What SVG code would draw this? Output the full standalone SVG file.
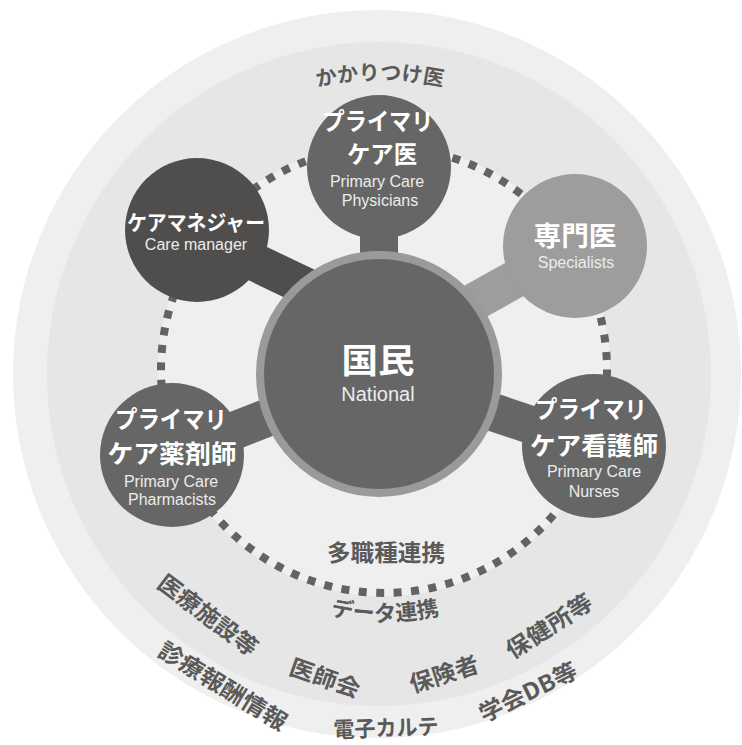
<svg xmlns="http://www.w3.org/2000/svg" width="742" height="745" viewBox="0 0 742 745">
<style>
.jp{font-family:"Noto Sans CJK JP",sans-serif;font-weight:700;fill:#ffffff;text-anchor:middle}
.en{font-family:"Liberation Sans",Arial,sans-serif;font-size:16px;fill:#ececec;text-anchor:middle}
.lbl{font-family:"Noto Sans CJK JP",sans-serif;font-weight:700;fill:#5a5a5a;text-anchor:middle}
.conn{stroke-width:38;fill:none;stroke-linecap:butt}
.dark{fill:#666666}
</style>
<defs>
<path id="arcTop" d="M 86,374 A 294 294 0 0 1 674,374"/>
<path id="arcData" d="M 138,374 A 247 247 0 0 0 632,374"/>
</defs>
<g id="background">
<circle cx="377" cy="374" r="364" fill="#efefef"/>
<circle cx="379" cy="374" r="332" fill="#e6e6e6"/>
<circle cx="384" cy="370" r="226" fill="#efefef"/>
</g>
<g id="ring">
<circle cx="384" cy="370" r="223" fill="none" stroke="#636363" stroke-width="8" stroke-dasharray="8 9.5"/>
</g>
<g id="connectors">
<line class="conn" x1="379" y1="165" x2="379" y2="300" stroke="#666666"/>
<line class="conn" x1="200" y1="236" x2="340" y2="303" stroke="#4f4e4d"/>
<line class="conn" x1="575" y1="246" x2="400" y2="343" stroke="#9d9d9d" stroke-width="36"/>
<line class="conn" x1="379" y1="374" x2="594" y2="446" stroke="#666666"/>
<line class="conn" x1="172" y1="455" x2="379" y2="374" stroke="#666666"/>
</g>
<g id="node-physicians">
<circle class="dark" cx="379" cy="167" r="72"/>
<text class="jp" x="378" y="130" font-size="24" textLength="111" lengthAdjust="spacingAndGlyphs">プライマリ</text>
<text class="jp" x="382" y="163" font-size="24" textLength="70" lengthAdjust="spacingAndGlyphs">ケア医</text>
<text class="en" x="377" y="187">Primary Care</text>
<text class="en" x="380" y="206">Physicians</text>
</g>
<g id="node-caremanager">
<circle cx="197" cy="230" r="72" fill="#4f4e4d"/>
<text class="jp" x="196" y="230" font-size="21" textLength="138" lengthAdjust="spacingAndGlyphs">ケアマネジャー</text>
<text class="en" x="196" y="250">Care manager</text>
</g>
<g id="node-specialists">
<circle cx="575" cy="246" r="72" fill="#9d9d9d"/>
<text class="jp" x="575" y="246" font-size="27" textLength="83" lengthAdjust="spacingAndGlyphs">専門医</text>
<text class="en" x="576" y="268">Specialists</text>
</g>
<g id="node-nurses">
<circle class="dark" cx="594" cy="446" r="72"/>
<text class="jp" x="591" y="418" font-size="24" textLength="112" lengthAdjust="spacingAndGlyphs">プライマリ</text>
<text class="jp" x="594" y="455" font-size="25" textLength="128" lengthAdjust="spacingAndGlyphs">ケア看護師</text>
<text class="en" x="594" y="477">Primary Care</text>
<text class="en" x="594" y="497">Nurses</text>
</g>
<g id="node-pharmacists">
<circle class="dark" cx="172" cy="455" r="72"/>
<text class="jp" x="171" y="428" font-size="24" textLength="112" lengthAdjust="spacingAndGlyphs">プライマリ</text>
<text class="jp" x="172" y="463" font-size="25" textLength="129" lengthAdjust="spacingAndGlyphs">ケア薬剤師</text>
<text class="en" x="171" y="487">Primary Care</text>
<text class="en" x="172" y="505">Pharmacists</text>
</g>
<g id="node-national">
<circle cx="379" cy="374" r="119" fill="#666666" stroke="#9a9a9a" stroke-width="8"/>
<text class="jp" x="378" y="373" font-size="34" textLength="73" lengthAdjust="spacingAndGlyphs">国民</text>
<text class="en" x="378" y="401" style="font-size:20px">National</text>
</g>
<g id="labels">
<text class="lbl" font-size="21"><textPath href="#arcTop" startOffset="50%">かかりつけ医</textPath></text>
<text class="lbl" x="386" y="561" font-size="23" textLength="118" lengthAdjust="spacingAndGlyphs">多職種連携</text>
<text class="lbl" font-size="22"><textPath href="#arcData" startOffset="50%">データ連携</textPath></text>
<text class="lbl" font-size="23" transform="translate(208,615) rotate(37)" y="8.5" textLength="118" lengthAdjust="spacingAndGlyphs">医療施設等</text>
<text class="lbl" font-size="23" transform="translate(223,686) rotate(31.5)" y="8.5" textLength="146" lengthAdjust="spacingAndGlyphs">診療報酬情報</text>
<text class="lbl" font-size="23" transform="translate(325,678) rotate(19.5)" y="8.5" textLength="73" lengthAdjust="spacingAndGlyphs">医師会</text>
<text class="lbl" font-size="23" transform="translate(444,674) rotate(-18)" y="8.5" textLength="71" lengthAdjust="spacingAndGlyphs">保険者</text>
<text class="lbl" font-size="23" transform="translate(549,626) rotate(-33)" y="8.5" textLength="98" lengthAdjust="spacingAndGlyphs">保健所等</text>
<text class="lbl" font-size="23" transform="translate(528,692) rotate(-26)" y="8.5" textLength="106" lengthAdjust="spacingAndGlyphs">学会DB等</text>
<text class="lbl" font-size="22" transform="translate(386,728) rotate(-2)" y="8" textLength="105" lengthAdjust="spacingAndGlyphs">電子カルテ</text>
</g>
</svg>
